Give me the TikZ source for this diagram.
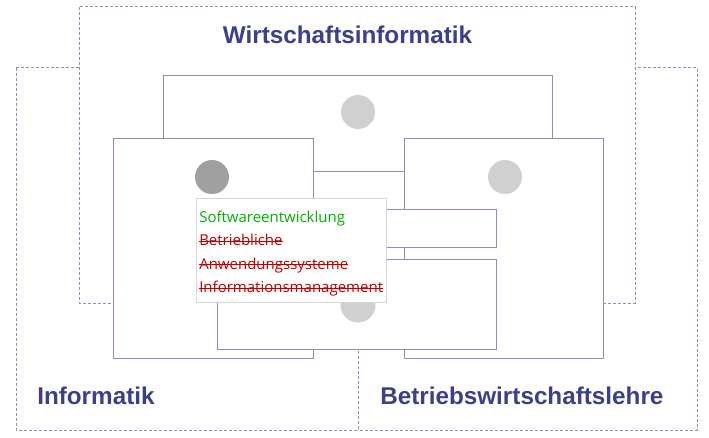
\documentclass[tikz,border=0pt]{standalone}
\usepackage{fontspec}
\usepackage{tikz}
\newfontfamily\headfont{Liberation Sans}
\newfontfamily\tipfont{Open Sans}
\definecolor{headblue}{RGB}{60,64,140}
\definecolor{framecol}{RGB}{140,140,192}
\definecolor{okgreen}{RGB}{0,176,0}
\definecolor{strikered}{RGB}{192,0,0}
\tikzset{
  region/.style={draw=framecol, line width=0.75pt, dash pattern=on 2.25pt off 1.5pt},
  panel/.style={draw=framecol, fill=white, line width=0.75pt},
  dot/.style={fill={rgb, 255:red, 208; green, 208; blue, 208 }},
  heading/.style={inner sep=0pt, text=headblue, font=\headfont\bfseries\fontsize{18.2pt}{21pt}\selectfont},
  tipline/.style={anchor=base west, inner sep=0pt, font=\tipfont\fontsize{11.25pt}{14pt}\selectfont},
  strike/.style={draw=strikered, line width=0.75pt}
}

\begin{document}
\begin{tikzpicture}[x=0.75pt,y=0.75pt,yscale=-1,xscale=1]
    \useasboundingbox (0,0) rectangle (709,438);
    % fields
    \draw [region] (16,68) rectangle (358,430) ;
    \draw [region] (358,68) -- (697,68) -- (697,430) -- (358,430) ;
    \draw [region, fill=white] (79,7) rectangle (635,303) ;
    % boxes
    \draw [panel] (163,76) rectangle (552,172) ;
    \draw [panel] (113,139) rectangle (313,358) ;
    \draw [panel] (404,139) rectangle (603,358) ;
    \draw [panel] (300,209) rectangle (496,247) ;
    \draw [panel] (217,259) rectangle (496,349) ;
    \fill [dot] (358,112) circle (17) ;
    \fill [dot, fill={rgb, 255:red, 160; green, 160; blue, 160 }] (212,177) circle (17) ;
    \fill [dot] (505,177) circle (17) ;
    \fill [dot] (358,305) circle (17.5) ;
    % tooltip
    \draw [draw={rgb, 255:red, 214; green, 214; blue, 214 }, fill=white, line width=0.75pt] (196,199) rectangle (386,302) ;
    \draw (199,222) node [tipline, text=okgreen] (swe) {Softwareentwicklung};
    \draw (199,245.5) node [tipline, text=strikered] (bet) {Betriebliche};
    \draw (199,269) node [tipline, text=strikered] (anw) {Anwendungssysteme};
    \draw (199,292.5) node [tipline, text=strikered] (inf) {Informationsmanagement};
    \draw [strike] ([yshift=-3.3pt]bet.base west) -- ([yshift=-3.3pt]bet.base east) ;
    \draw [strike] ([yshift=-3.3pt]anw.base west) -- ([yshift=-3.3pt]anw.base east) ;
    \draw [strike] ([yshift=-3.3pt]inf.base west) -- ([yshift=-3.3pt]inf.base east) ;
    % labels
    \draw (347.5,44) node [heading, anchor=base] (wi) {Wirtschaftsinformatik};
    \draw (37,404.5) node [heading, anchor=base west] (info) {Informatik};
    \draw (380,404.5) node [heading, anchor=base west] (bwl) {Betriebswirtschaftslehre};
\end{tikzpicture}
\end{document}
